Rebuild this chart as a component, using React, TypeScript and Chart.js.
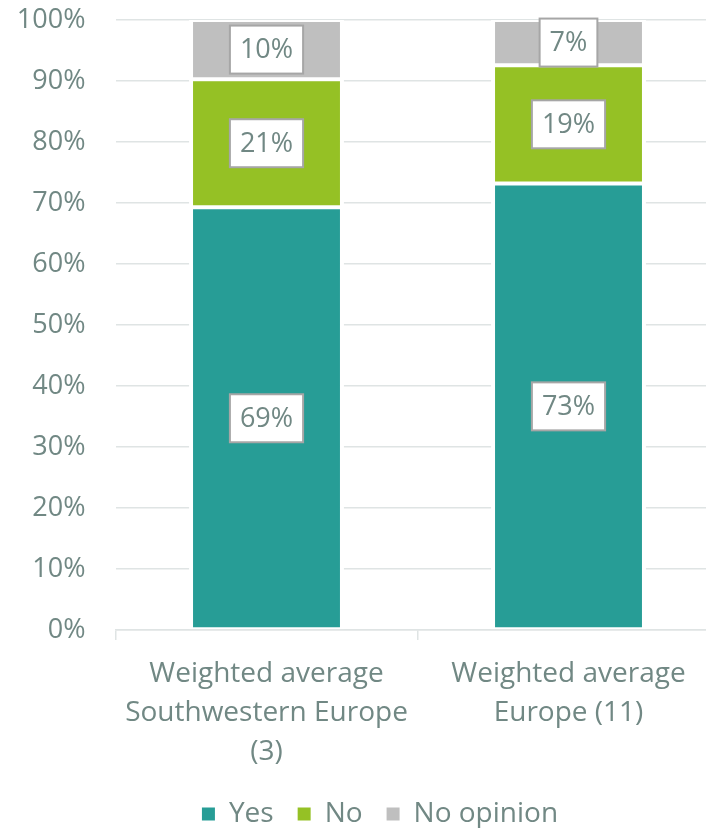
import React, { useEffect, useRef } from "react";
import { Chart, registerables } from "chart.js";

Chart.register(...registerables);

const categories: string[][] = [
  ["Weighted average", "Southwestern Europe", "(3)"],
  ["Weighted average", "Europe (11)"],
];
const seriesNames = ["Yes", "No", "No opinion"];
const yesValues = [69.3, 73.2];
const noValues = [21.0, 19.4];
const noOpinionValues = [9.7, 7.4];
const seriesColors = ["#279d96", "#95c125", "#bfbfbf"];
const yTicks = [0, 10, 20, 30, 40, 50, 60, 70, 80, 90, 100];

const TEXT = "#718884";
const GRID = "#dfe4e4";
const FONT = "'Open Sans', sans-serif";
const FS = 27;
const FSX = 28;

const labelPlugin = {
  id: "boxLabels",
  afterDatasetsDraw(chart: any) {
    const ctx = chart.ctx;
    ctx.save();
    ctx.font = `${FS}px ${FONT}`;
    ctx.textAlign = "center";
    ctx.textBaseline = "middle";
    chart.data.datasets.forEach((ds: any, i: number) => {
      const meta = chart.getDatasetMeta(i);
      meta.data.forEach((el: any, j: number) => {
        const v = ds.data[j];
        const txt = Math.round(v) + "%";
        const cx = el.x;
        const cy = (el.y + el.base) / 2;
        const w = ctx.measureText(txt).width + 20;
        const h = 48;
        ctx.fillStyle = "#ffffff";
        ctx.fillRect(cx - w / 2, cy - h / 2, w, h);
        ctx.strokeStyle = "#a6a6a6";
        ctx.lineWidth = 2;
        ctx.strokeRect(cx - w / 2, cy - h / 2, w, h);
        ctx.fillStyle = TEXT;
        ctx.fillText(txt, cx, cy + 1);
      });
    });
    ctx.restore();
  },
};

export default function App() {
  const ref = useRef<HTMLCanvasElement | null>(null);
  useEffect(() => {
    if (!ref.current) return;
    const values = [yesValues, noValues, noOpinionValues];
    const chart = new Chart(ref.current, {
      type: "bar",
      data: {
        labels: categories as any,
        datasets: seriesNames.map((name, i) => ({
          label: name,
          data: values[i],
          backgroundColor: seriesColors[i],
          borderColor: "#ffffff",
          borderWidth: { top: 2, bottom: 2, left: 4, right: 4 },
          borderSkipped: false,
          barPercentage: 0.513,
          categoryPercentage: 1,
        })),
      },
      options: {
        responsive: false,
        animation: false,
        devicePixelRatio: 1,
        layout: { padding: { top: 0, left: 0, right: 0, bottom: 0 } },
        plugins: {
          tooltip: { enabled: false },
          legend: {
            position: "bottom",
            labels: {
              color: TEXT,
              font: { family: FONT, size: FSX },
              boxWidth: 13,
              boxHeight: 13,
              padding: 24,
              generateLabels: (c: any) =>
                c.data.datasets.map((ds: any, i: number) => ({
                  text: ds.label,
                  fillStyle: ds.backgroundColor,
                  strokeStyle: ds.backgroundColor,
                  lineWidth: 0,
                  hidden: false,
                  datasetIndex: i,
                  fontColor: TEXT,
                })),
            },
          },
        },
        scales: {
          x: {
            stacked: true,
            offset: true,
            grid: {
              offset: true,
              drawOnChartArea: false,
              drawTicks: true,
              tickLength: 10,
              color: GRID,
              lineWidth: 1.5,
            },
            border: { display: true, color: GRID, width: 1.5 },
            ticks: {
              color: TEXT,
              font: { family: FONT, size: FSX, lineHeight: 39 / FSX },
              padding: 15,
              maxRotation: 0,
              minRotation: 0,
              autoSkip: false,
            },
            afterFit: (s: any) => {
              s.height = 146;
            },
          },
          y: {
            stacked: true,
            min: 0,
            max: 100,
            afterBuildTicks: (s: any) => {
              s.ticks = yTicks.map((v) => ({ value: v }));
            },
            grid: { color: GRID, lineWidth: 1.5, drawTicks: false },
            border: { display: false },
            ticks: {
              color: TEXT,
              font: { family: FONT, size: FS, lineHeight: 32 / FS },
              padding: 30,
              callback: (v: any) => v + "%",
            },
            afterFit: (s: any) => {
              s.width = 115.5;
            },
          },
          y2: {
            position: "right",
            display: true,
            grid: { display: false, drawTicks: false },
            border: { display: false },
            ticks: { display: false },
            afterFit: (s: any) => {
              s.width = 40.5;
            },
          },
        },
      },
      plugins: [labelPlugin],
    } as any);
    return () => chart.destroy();
  }, []);
  return (
    <div
      style={{
        position: "fixed",
        left: 0,
        top: 0,
        width: 706,
        height: 828,
        overflow: "hidden",
        background: "#ffffff",
      }}
    >
      <canvas
        ref={ref}
        width={760}
        height={864}
        style={{ display: "block", position: "absolute", left: 0, top: -26 }}
      />
    </div>
  );
}
